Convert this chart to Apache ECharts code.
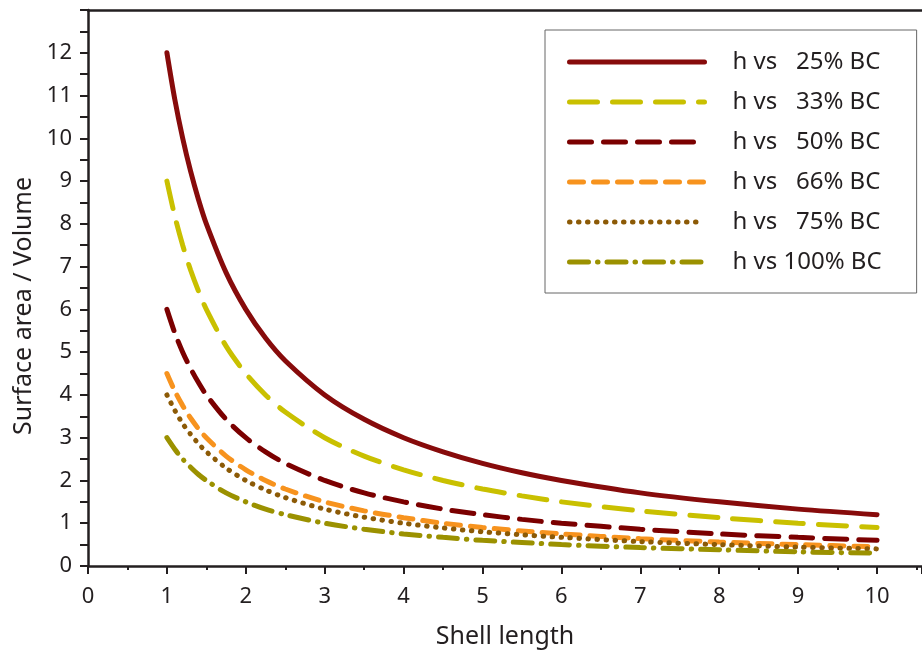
<!DOCTYPE html>
<html>
<head>
<meta charset="utf-8">
<script src="https://cdn.jsdelivr.net/npm/echarts@6/dist/echarts.min.js"></script>
<style>
  html, body { margin: 0; padding: 0; background: #fff; }
  #main { width: 922px; height: 654px; }
</style>
</head>
<body>
<div id="main"></div>
<script>
// shell length samples
var shellLength = [1, 1.1, 1.2, 1.3, 1.4, 1.5, 1.75, 2, 2.25, 2.5, 3, 3.5, 4, 4.5, 5, 5.5, 6, 7, 8, 9, 10];

var bc25 = [12, 10.91, 10, 9.23, 8.57, 8, 6.86, 6, 5.33, 4.8, 4, 3.43, 3, 2.67, 2.4, 2.18, 2, 1.71, 1.5, 1.33, 1.2];
var bc33 = [9, 8.18, 7.5, 6.92, 6.43, 6, 5.14, 4.5, 4, 3.6, 3, 2.57, 2.25, 2, 1.8, 1.64, 1.5, 1.29, 1.13, 1, 0.9];
var bc50 = [6, 5.45, 5, 4.62, 4.29, 4, 3.43, 3, 2.67, 2.4, 2, 1.71, 1.5, 1.33, 1.2, 1.09, 1, 0.86, 0.75, 0.67, 0.6];
var bc66 = [4.5, 4.09, 3.75, 3.46, 3.21, 3, 2.57, 2.25, 2, 1.8, 1.5, 1.29, 1.13, 1, 0.9, 0.82, 0.75, 0.64, 0.56, 0.5, 0.45];
var bc75 = [4, 3.64, 3.33, 3.08, 2.86, 2.67, 2.29, 2, 1.78, 1.6, 1.33, 1.14, 1, 0.89, 0.8, 0.73, 0.67, 0.57, 0.5, 0.44, 0.4];
var bc100 = [3, 2.73, 2.5, 2.31, 2.14, 2, 1.71, 1.5, 1.33, 1.2, 1, 0.86, 0.75, 0.67, 0.6, 0.55, 0.5, 0.43, 0.38, 0.33, 0.3];

var seriesNames = ['h vs   25% BC', 'h vs   33% BC', 'h vs   50% BC', 'h vs   66% BC', 'h vs   75% BC', 'h vs 100% BC'];

function pairs(ys) {
  return shellLength.map(function (x, i) { return [x, ys[i]]; });
}

var font = 'Noto Sans';
var ink = '#231f20';

function makeLine(name, ys, color, type) {
  return {
    name: name,
    type: 'line',
    smooth: 0.3,
    symbol: 'none',
    lineStyle: {
      color: color,
      width: 5,
      type: type,
      cap: 'round'
    },
    itemStyle: { color: color },
    data: pairs(ys)
  };
}

var myChart = echarts.init(document.getElementById('main'));
var option = {
  backgroundColor: '#fff',
  animation: false,
  grid: {
    left: 88,
    right: 0,
    top: 10,
    bottom: 88
  },
  legend: {
    orient: 'vertical',
    left: 545,
    top: 30,
    padding: [20, 35, 19, 22],
    itemWidth: 135,
    itemHeight: 14,
    itemGap: 16,
    borderColor: '#666',
    borderWidth: 1,
    itemStyle: { opacity: 0 },
    lineStyle: { width: 5, cap: 'round' },
    textStyle: {
      fontFamily: font,
      fontSize: 24,
      color: ink,
      padding: [0, 0, 0, 23]
    },
    data: seriesNames
  },
  xAxis: [{
    type: 'value',
    min: 0,
    max: 10.57,
    interval: 1,
    name: 'Shell length',
    nameLocation: 'middle',
    nameGap: 58,
    nameTextStyle: { fontFamily: font, fontSize: 25, color: ink },
    axisLine: { lineStyle: { color: ink, width: 2.5 } },
    axisTick: { length: 8, lineStyle: { color: ink, width: 2 } },
    minorTick: { show: true, splitNumber: 2, length: 4, lineStyle: { color: ink, width: 2 } },
    axisLabel: { fontFamily: font, fontSize: 22, color: ink, margin: 20, showMaxLabel: false },
    splitLine: { show: false }
  }, {
    type: 'value',
    position: 'top',
    min: 0,
    max: 10.57,
    axisLine: { show: true, lineStyle: { color: ink, width: 2.5 } },
    axisTick: { show: false },
    axisLabel: { show: false },
    splitLine: { show: false }
  }],
  yAxis: {
    type: 'value',
    min: 0,
    max: 13,
    interval: 1,
    name: 'Surface area / Volume',
    nameLocation: 'middle',
    nameGap: 48,
    nameTextStyle: { fontFamily: font, fontSize: 25, color: ink, padding: [0, 36, 0, 0] },
    axisLine: { show: true, lineStyle: { color: ink, width: 2.5 } },
    axisTick: { length: 8, lineStyle: { color: ink, width: 2 } },
    minorTick: { show: true, splitNumber: 2, length: 8, lineStyle: { color: ink, width: 2 } },
    axisLabel: { fontFamily: font, fontSize: 22, color: ink, margin: 16, showMaxLabel: false },
    splitLine: { show: false }
  },
  series: [
    makeLine(seriesNames[0], bc25, '#870b0b', 'solid'),
    makeLine(seriesNames[1], bc33, '#c9c000', [28, 15]),
    makeLine(seriesNames[2], bc50, '#7b0000', [22, 12]),
    makeLine(seriesNames[3], bc66, '#f7931e', [14, 10]),
    makeLine(seriesNames[4], bc75, '#8c5a06', [0.5, 8.5]),
    makeLine(seriesNames[5], bc100, '#9b9100', [19, 9, 0.5, 9])
  ]
};
myChart.setOption(option);
</script>
</body>
</html>
